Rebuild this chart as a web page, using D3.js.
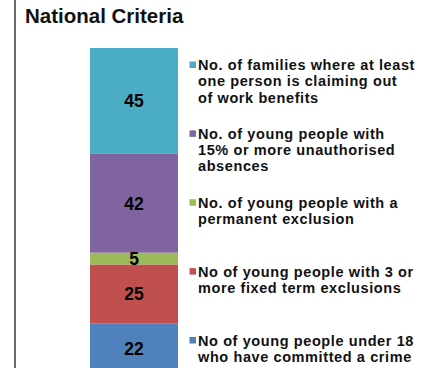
<!DOCTYPE html>
<html>
<head>
<meta charset="utf-8">
<script src="https://cdn.jsdelivr.net/npm/d3@7/dist/d3.min.js"></script>
<style>
  html, body { margin: 0; padding: 0; background: #fff; }
  svg { display: block; }
  text { font-family: "Liberation Sans", Arial, sans-serif; font-weight: bold; }
</style>
</head>
<body>
<svg id="chart" width="429" height="368"></svg>
<script>
// Stack order, bottom to top
const series = [
  "No of young people under 18 who have committed a crime",
  "No of young people with 3 or more fixed term exclusions",
  "No. of young people with a permanent exclusion",
  "No. of young people with 15% or more unauthorised absences",
  "No. of families where at least one person is claiming out of work benefits"
];
const values = [22, 25, 5, 42, 45];
const colors = ["#4F81BD", "#C0504D", "#9BBB59", "#8064A2", "#4BACC6"];
// Legend wording broken into lines, same order as series
const legendLines = [
  ["No of young people under 18", "who have committed a crime"],
  ["No of young people with 3 or", "more fixed term exclusions"],
  ["No. of young people with a", "permanent exclusion"],
  ["No. of young people with", "15% or more unauthorised", "absences"],
  ["No. of families where at least", "one person is claiming out", "of work benefits"]
];
const category = ["National Criteria"];
const title = "National Criteria";

const svg = d3.select("#chart");

// left frame edge
svg.append("line")
  .attr("x1", 15).attr("x2", 15).attr("y1", 0).attr("y2", 368)
  .attr("stroke", "#444").attr("stroke-width", 1.6);

svg.append("text")
  .attr("x", 25).attr("y", 22.5)
  .attr("font-size", 20.5)
  .attr("fill", "#111")
  .text(title);

const total = d3.sum(values);
const y = d3.scaleLinear().domain([0, total]).range([375, 48]);
const x = d3.scaleBand().domain(category).range([90, 178]).padding(0);

const row = {};
series.forEach((s, i) => row[s] = values[i]);
const stacked = d3.stack().keys(series)([row]);

const g = svg.append("g");
g.selectAll("rect").data(stacked).join("rect")
  .attr("x", x(category[0]))
  .attr("width", x.bandwidth())
  .attr("y", d => y(d[0][1]))
  .attr("height", d => y(d[0][0]) - y(d[0][1]))
  .attr("fill", (d, i) => colors[i]);

g.selectAll("text.val").data(stacked).join("text")
  .attr("class", "val")
  .attr("x", x(category[0]) + x.bandwidth() / 2)
  .attr("y", d => (y(d[0][0]) + y(d[0][1])) / 2)
  .attr("dy", "0.36em")
  .attr("text-anchor", "middle")
  .attr("font-size", 17.5)
  .attr("fill", "#000")
  .text((d, i) => values[i]);

// Legend, top entry first
const legendOrder = series.slice().reverse();
const ly = d3.scalePoint().domain(legendOrder).range([70, 345.5]);
const lg = svg.append("g");
legendOrder.forEach(s => {
  const i = series.indexOf(s);
  const base = ly(s);
  lg.append("rect")
    .attr("x", 189.5).attr("y", base - 8.5).attr("width", 6.5).attr("height", 6.5)
    .attr("fill", colors[i]);
  const t = lg.append("text")
    .attr("x", 198).attr("y", base)
    .attr("font-size", 14.5)
    .attr("letter-spacing", 0.6)
    .attr("fill", "#111");
  legendLines[i].forEach((line, k) => {
    t.append("tspan").attr("x", 198).attr("y", base + k * 16.3).text(line);
  });
});
</script>
</body>
</html>
